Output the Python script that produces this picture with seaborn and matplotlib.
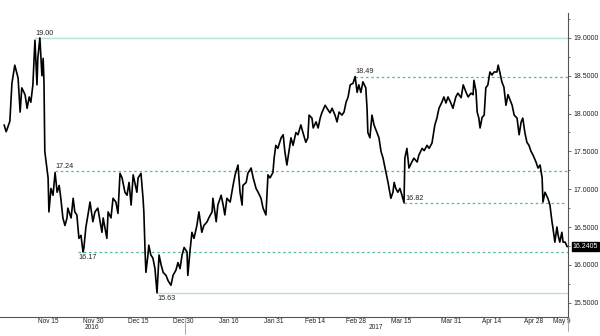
import numpy as np
import pandas as pd
import matplotlib
matplotlib.use("Agg")
import matplotlib.pyplot as plt
import seaborn as sns
from matplotlib.ticker import MultipleLocator, FormatStrFormatter, FixedLocator
import matplotlib.transforms as mtransforms

# ---- data: business-day offset from 2016-11-01, price ----
day = [-0.7, -0.2, 0.2, 0.7, 1.2, 1.9, 2.7, 3.2, 3.6, 4.4, 4.9, 5.4, 5.8, 6.3, 6.8, 7.3, 7.5, 8.0,
       8.5, 8.8, 9.0, 9.2, 9.7, 10.0, 10.2, 10.7, 11.2, 11.7, 12.2, 12.7, 13.1, 13.6, 14.1, 14.6,
       14.8, 15.6, 16.1, 16.5, 17.0, 17.5, 18.0, 18.5, 18.7, 19.2, 19.7, 20.2, 20.9, 21.4, 22.1,
       23.1, 23.4, 24.3, 24.6, 25.3, 25.8, 26.5, 27.0, 27.5, 28.0, 28.7, 29.2, 29.7, 30.2, 30.7,
       31.1, 31.6, 31.9, 32.6, 33.1, 33.3, 33.6, 33.8, 34.3, 34.5, 35.0, 35.5, 36.0, 36.5, 37.0,
       37.5, 38.0, 38.7, 39.2, 39.9, 40.4, 41.1, 41.6, 42.1, 42.6, 43.1, 43.8, 44.0, 44.5, 45.0,
       45.5, 46.2, 46.7, 47.4, 47.9, 48.7, 49.1, 49.9, 50.1, 50.9, 51.3, 52.1, 52.6, 53.0, 53.5,
       54.3, 55.0, 55.5, 56.2, 56.7, 57.2, 57.4, 58.2, 58.6, 59.4, 59.9, 60.6, 61.1, 61.8, 62.3,
       63.0, 63.5, 64.0, 64.7, 65.0, 65.4, 65.9, 66.7, 67.2, 67.6, 68.1, 68.6, 69.1, 69.6, 70.3,
       70.8, 71.5, 72.0, 72.7, 73.2, 73.5, 74.2, 74.5, 75.2, 75.7, 76.2, 76.6, 77.4, 78.1, 78.6,
       79.1, 79.8, 80.3, 80.8, 81.5, 82.0, 82.5, 83.0, 83.5, 84.2, 84.7, 85.2, 85.6, 86.1, 86.6,
       87.3, 87.6, 87.8, 88.3, 88.8, 89.3, 90.0, 90.5, 91.0, 91.5, 92.2, 92.7, 93.4, 93.9, 94.2,
       94.6, 95.1, 95.6, 96.1, 96.6, 96.8, 97.3, 97.8, 98.5, 99.0, 99.8, 100.2, 101.0, 101.5,
       102.2, 102.7, 103.4, 103.6, 104.1, 104.6, 105.1, 105.8, 106.3, 106.8, 107.3, 108.0, 108.5,
       109.2, 109.7, 110.5, 111.0, 111.7, 112.2, 112.9, 113.4, 113.6, 114.1, 114.4, 114.8, 115.1,
       115.6, 116.1, 116.5, 117.0, 117.5, 118.0, 118.5, 119.2, 119.5, 119.9, 120.4, 120.9, 121.4,
       121.9, 122.4, 122.9, 123.4, 124.1, 124.6, 125.1, 125.5, 126.0, 126.5, 127.0, 127.5, 128.0,
       128.7, 129.2, 129.7, 130.2, 130.4, 130.9, 131.6, 132.1, 132.6, 132.8, 133.3, 133.8, 134.1,
       134.5, 135.0, 135.3, 135.8, 136.3]
price = [17.85, 17.76, 17.82, 17.90, 18.40, 18.64, 18.47, 18.02, 18.34, 18.25, 18.07, 18.22, 18.15,
         18.38, 18.97, 18.38, 18.73, 19.00, 18.50, 18.73, 18.42, 17.50, 17.28, 17.15, 16.70, 17.01,
         16.92, 17.22, 16.96, 17.05, 16.88, 16.62, 16.52, 16.62, 16.75, 16.62, 16.88, 16.70, 16.66,
         16.35, 16.39, 16.17, 16.22, 16.50, 16.66, 16.83, 16.57, 16.70, 16.75, 16.43, 16.62, 16.35,
         16.70, 16.62, 16.88, 16.83, 16.68, 17.21, 17.15, 16.96, 16.92, 17.09, 16.79, 17.19, 17.09,
         16.96, 17.15, 17.21, 16.88, 16.70, 16.17, 15.90, 16.13, 16.26, 16.13, 16.09, 15.95, 15.63,
         16.13, 16.00, 15.90, 15.86, 15.79, 15.73, 15.86, 15.93, 16.03, 15.95, 16.13, 16.23, 16.17,
         15.86, 16.17, 16.43, 16.35, 16.52, 16.70, 16.43, 16.52, 16.57, 16.62, 16.70, 16.88, 16.57,
         16.79, 16.92, 16.79, 16.66, 16.88, 16.83, 17.05, 17.19, 17.32, 16.96, 16.79, 17.05, 17.09,
         17.21, 17.28, 17.15, 17.01, 16.96, 16.88, 16.75, 16.66, 17.19, 17.15, 17.22, 17.41, 17.58,
         17.54, 17.68, 17.72, 17.50, 17.32, 17.50, 17.68, 17.58, 17.75, 17.72, 17.85, 17.75, 17.62,
         17.68, 17.98, 17.94, 17.81, 17.89, 17.81, 17.94, 18.01, 18.11, 18.05, 18.01, 18.07, 17.98,
         17.89, 18.02, 17.98, 18.02, 18.15, 18.22, 18.38, 18.40, 18.49, 18.28, 18.38, 18.28, 18.42,
         18.34, 18.07, 17.75, 17.68, 17.98, 17.85, 17.75, 17.68, 17.50, 17.41, 17.22, 17.09, 16.88,
         16.96, 17.09, 17.01, 16.96, 17.01, 16.92, 16.82, 17.41, 17.54, 17.28, 17.36, 17.41, 17.36,
         17.45, 17.54, 17.51, 17.58, 17.54, 17.61, 17.68, 17.85, 17.94, 18.07, 18.15, 18.22, 18.14,
         18.22, 18.14, 18.07, 18.22, 18.27, 18.21, 18.38, 18.28, 18.22, 18.27, 18.25, 18.44, 18.30,
         18.02, 17.94, 17.81, 17.95, 17.98, 18.34, 18.38, 18.55, 18.51, 18.55, 18.55, 18.64, 18.55,
         18.42, 18.35, 18.11, 18.25, 18.18, 18.11, 17.98, 17.94, 17.72, 17.89, 17.94, 17.75, 17.62,
         17.58, 17.50, 17.45, 17.36, 17.28, 17.32, 17.15, 16.83, 16.96, 16.88, 16.79, 16.57, 16.50,
         16.30, 16.50, 16.39, 16.30, 16.43, 16.30, 16.30, 16.24]

base_date = "2016-11-01"
tick_dates = ["2016-11-15", "2016-11-30", "2016-12-15", "2016-12-30", "2017-01-16", "2017-01-31",
              "2017-02-14", "2017-02-28", "2017-03-15", "2017-03-31", "2017-04-14", "2017-04-28",
              "2017-05-09"]
tick_labels = ["Nov 15", "Nov 30", "Dec 15", "Dec 30", "Jan 16", "Jan 31", "Feb 14", "Feb 28",
               "Mar 15", "Mar 31", "Apr 14", "Apr 28", "May 9"]
year_labels = ["2016", "2017"]

level_values = [19.00, 17.24, 16.17, 15.63, 18.49, 16.82]
level_labels = ["19.00", "17.24", "16.17", "15.63", "18.49", "16.82"]
level_start = [6.8, 11.7, 17.3, 36.5, 84.7, 96.6]
level_solid = [True, False, False, True, False, False]
level_above = [True, True, False, False, True, True]
last_label = "16.2405"
last_value = 16.2405

df = pd.DataFrame({"day": day, "price": price})

sns.set_style("white")
plt.rcParams["font.family"] = ["Liberation Sans", "DejaVu Sans"]

fig = plt.figure(figsize=(6.0, 3.36), dpi=100)
ax = fig.add_axes([0.0, 0.0565, 0.9467, 0.9048])

XMIN, XMAX = -1.7, 136.5
ax.set_xlim(XMIN, XMAX)
ax.set_ylim(15.31, 19.33)

solid_c = "#b4e3cf"
dash_c = "#4dbf8e"
for v, lab, s, solid, above in zip(level_values, level_labels, level_start, level_solid, level_above):
    if solid:
        ax.plot([s, XMAX], [v, v], color=solid_c, lw=1.0, zorder=1)
    else:
        end = XMAX if lab != "16.82" else 135.8
        ax.plot([s, end], [v, v], color=dash_c, lw=0.9, ls=(0, (2, 2.2)), zorder=1)
    if lab == "16.82":
        ax.text(s + 0.3, v + 0.01, lab, fontsize=5.2, va="bottom", ha="left", color="#222222")
    elif above:
        ax.text(s, v + 0.015, lab, fontsize=5.2, va="bottom", ha="left", color="#222222")
    else:
        ax.text(s, v - 0.03, lab, fontsize=5.2, va="top", ha="left", color="#222222")

sns.lineplot(data=df, x="day", y="price", ax=ax, color="black", lw=1.2, zorder=3)

# spines
for side in ["left", "top"]:
    ax.spines[side].set_visible(False)
ax.spines["right"].set_color("#555555")
ax.spines["bottom"].set_color("#555555")
ax.spines["right"].set_linewidth(0.8)
ax.spines["bottom"].set_linewidth(0.8)

# y axis on right
ax.yaxis.tick_right()
ax.yaxis.set_major_locator(MultipleLocator(0.5))
ax.yaxis.set_minor_locator(MultipleLocator(0.25))
ax.yaxis.set_major_formatter(FormatStrFormatter("%.4f"))
ax.tick_params(axis="y", which="major", length=2.5, width=0.6, color="#555555",
               labelsize=5.0, pad=1.5, labelcolor="#222222")
ax.tick_params(axis="y", which="minor", length=1.5, width=0.6, color="#555555")
ax.set_ylabel("")

# x axis ticks from dates (business-day index)
tick_pos = [int(np.busday_count(base_date, d)) for d in tick_dates]
ax.set_xticks(tick_pos)
ax.set_xticklabels(tick_labels)
ax.xaxis.set_minor_locator(FixedLocator(np.arange(4, 137, 5)))
ax.tick_params(axis="x", which="major", length=0, labelsize=4.7, pad=1.0, labelcolor="#222222")
ax.tick_params(axis="x", which="minor", direction="in", length=2, width=0.6, color="#555555")
ax.set_xlabel("")

# year labels centered in each year's span
sep = int(np.busday_count(base_date, "2016-12-30")) + 0.2
trans = mtransforms.blended_transform_factory(ax.transData, ax.transAxes)
ax.text((XMIN + sep) / 2, -0.024, year_labels[0], transform=trans, fontsize=4.7,
        ha="center", va="top", color="#222222")
ax.text((sep + XMAX) / 2, -0.024, year_labels[1], transform=trans, fontsize=4.7,
        ha="center", va="top", color="#222222")
ax.plot([sep, sep], [0, -0.055], transform=trans, color="#999999", lw=0.6, clip_on=False)
ax.plot([1, 1], [0, -0.045], transform=ax.transAxes, color="#999999", lw=0.6, clip_on=False)

# last value tag
transy = mtransforms.blended_transform_factory(ax.transAxes, ax.transData)
ax.text(1.008, last_value, last_label, transform=transy, fontsize=5.0, color="white",
        ha="left", va="center",
        bbox=dict(boxstyle="square,pad=0.15", fc="black", ec="black"))

fig.savefig("out.png", dpi=100)
